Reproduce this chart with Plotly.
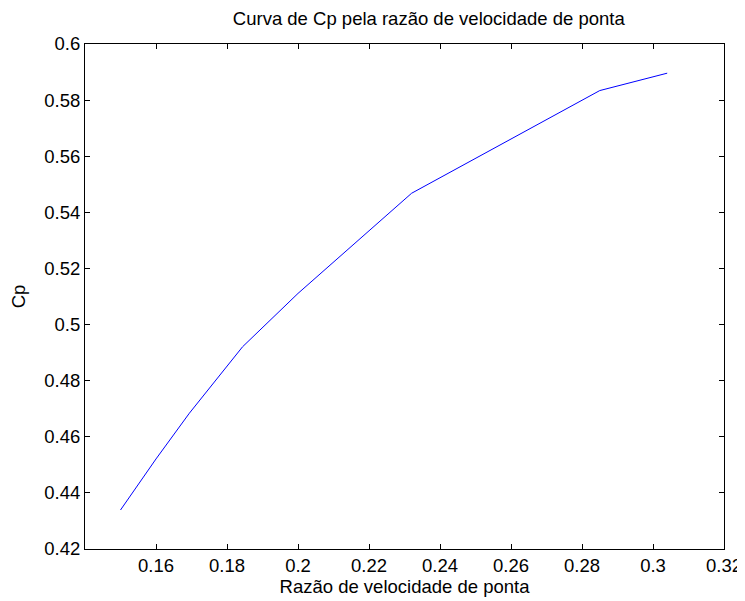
import plotly.graph_objects as go

# Data
tsr = [0.150, 0.160, 0.1694, 0.1844, 0.200, 0.232, 0.285, 0.304]
cp = [0.4339, 0.4521, 0.4684, 0.4921, 0.5111, 0.5468, 0.5834, 0.5896]

x_tickvals = [0.14, 0.16, 0.18, 0.20, 0.22, 0.24, 0.26, 0.28, 0.30, 0.32]
x_ticktext = ["", "0.16", "0.18", "0.2", "0.22", "0.24", "0.26", "0.28", "0.3", "0.32"]
y_tickvals = [0.42, 0.44, 0.46, 0.48, 0.50, 0.52, 0.54, 0.56, 0.58, 0.60]
y_ticktext = ["0.42", "0.44", "0.46", "0.48", "0.5", "0.52", "0.54", "0.56", "0.58", "0.6"]

FONT = "Liberation Sans, Arial, sans-serif"
FS = 18.5

# The page body adds an 8px offset; the figure is sized to fill the rest of the window.
W, H = 737, 593

fig = go.Figure()
fig.add_trace(go.Scatter(x=tsr, y=cp, mode="lines",
                         line=dict(color="#0000ff", width=1),
                         showlegend=False, hoverinfo="x+y"))

axis_common = dict(
    showgrid=False, zeroline=False, showline=True, linecolor="black", linewidth=1,
    mirror="allticks", ticks="inside", ticklen=5, tickcolor="black", tickwidth=1,
    tickfont=dict(family=FONT, size=FS, color="black"), automargin=False,
)

fig.update_layout(
    width=W, height=H,
    paper_bgcolor="white", plot_bgcolor="white",
    margin=dict(l=77, r=21, t=36, b=52, autoexpand=False),
    title=dict(text="Curva de Cp pela razão de velocidade de ponta",
               font=dict(family=FONT, size=FS, color="black"),
               x=(77 + 716) / 2 / W, xanchor="center", xref="paper",
               y=1 - 11 / H, yanchor="middle"),
    xaxis=dict(range=[0.14, 0.32], tickmode="array", tickvals=x_tickvals, ticktext=x_ticktext,
               title=dict(text="Razão de velocidade de ponta", standoff=3,
                          font=dict(family=FONT, size=FS, color="black")),
               **axis_common),
    yaxis=dict(range=[0.42, 0.60], tickmode="array", tickvals=y_tickvals, ticktext=y_ticktext,
               title=dict(text="Cp", standoff=14,
                          font=dict(family=FONT, size=FS, color="black")),
               **axis_common),
)

fig.write_html("out.html")
